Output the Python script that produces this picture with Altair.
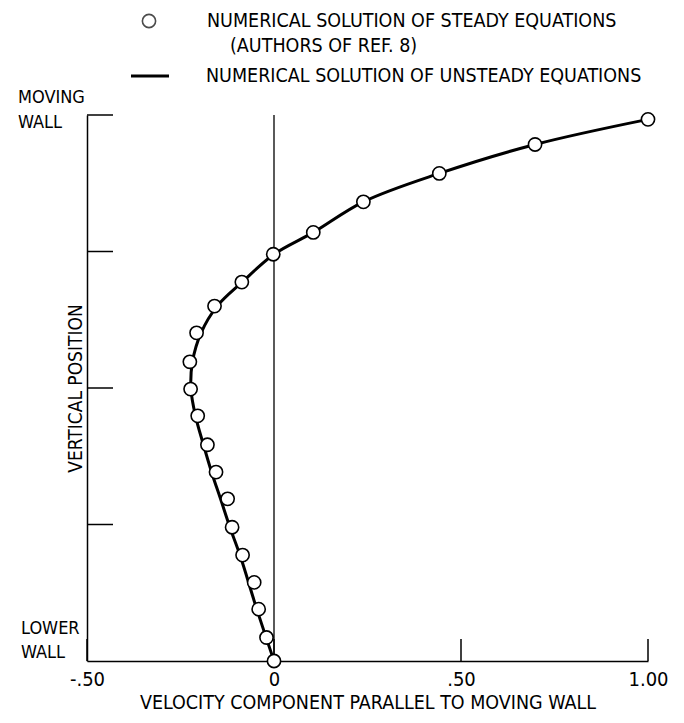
import altair as alt
import pandas as pd

# Steady-equation solution (circles)
pt_x = [1.00, 0.698, 0.442, 0.239, 0.105, -0.002, -0.086, -0.159, -0.207, -0.225, -0.223,
        -0.204, -0.178, -0.155, -0.124, -0.112, -0.084, -0.053, -0.041, -0.020, 0.0]
pt_y = [0.992, 0.946, 0.893, 0.841, 0.785, 0.745, 0.694, 0.650, 0.601, 0.548, 0.498,
        0.449, 0.396, 0.346, 0.297, 0.245, 0.194, 0.144, 0.095, 0.043, 0.0]

# Unsteady-equation solution (solid curve)
line_x = [0.0, -0.046, -0.091, -0.118, -0.143, -0.166, -0.189, -0.210, -0.222, -0.218,
          -0.195, -0.152, -0.085, 0.0, 0.105, 0.239, 0.442, 0.698, 1.0]
line_y = [0.0, 0.095, 0.194, 0.245, 0.297, 0.344, 0.397, 0.449, 0.498, 0.548,
          0.601, 0.650, 0.694, 0.745, 0.785, 0.841, 0.893, 0.946, 0.992]

x_ticks = [-0.5, 0.0, 0.5, 1.0]
x_tick_labels = ["-.50", "0", ".50", "1.00"]
y_ticks = [0.25, 0.5, 0.75, 1.0]

legend_1 = "NUMERICAL SOLUTION OF STEADY EQUATIONS"
legend_1b = "(AUTHORS OF REF. 8)"
legend_2 = "NUMERICAL SOLUTION OF UNSTEADY EQUATIONS"
x_title = "VELOCITY COMPONENT PARALLEL TO MOVING WALL"
y_title = "VERTICAL POSITION"

FONT = "DejaVu Sans Condensed, Liberation Sans Narrow, Arial Narrow, sans-serif"
W, H = 561, 546

pts = pd.DataFrame({"x": pt_x, "y": pt_y})
ln = pd.DataFrame({"x": line_x, "y": line_y, "o": list(range(len(line_x)))})
xt = pd.DataFrame({"x": x_ticks})
yt = pd.DataFrame({"y": y_ticks})

label_expr = " : ".join(
    f"datum.value == {v} ? '{s}'" for v, s in zip(x_ticks, x_tick_labels)
) + " : ''"

xscale = alt.Scale(domain=[-0.5, 1.0], nice=False, zero=False)
yscale = alt.Scale(domain=[0, 1], nice=False, zero=False)

xaxis = alt.Axis(values=x_ticks, labelExpr=label_expr, ticks=False, grid=False,
                 domainColor="black", domainWidth=1.5, labelFont=FONT, labelFontSize=20,
                 labelColor="black", labelPadding=8, labelFlush=False,
                 title=x_title, titleFont=FONT,
                 titleFontSize=19.5, titleFontWeight="normal", titleColor="black",
                 titlePadding=4)
yaxis = alt.Axis(ticks=False, labels=False, grid=False, domainColor="black",
                 domainWidth=1.5, title=y_title, titleFont=FONT, titleFontSize=19,
                 titleFontWeight="normal", titleColor="black", titlePadding=2)

base_x = alt.X("x:Q", scale=xscale, axis=xaxis)
base_y = alt.Y("y:Q", scale=yscale, axis=yaxis)

curve = alt.Chart(ln).mark_line(color="black", strokeWidth=3, interpolate="catmull-rom").encode(
    x=base_x, y=base_y, order="o:Q")

zero_line = alt.Chart(pd.DataFrame({"x": [0.0], "y": [0.0], "y2": [1.0]})).mark_rule(
    color="black", strokeWidth=1.3).encode(x="x:Q", y="y:Q", y2="y2:Q")

xtick_marks = alt.Chart(xt).mark_rule(color="black", strokeWidth=1.5).encode(
    x="x:Q", y=alt.value(H), y2=alt.value(H - 22))
ytick_marks = alt.Chart(yt).mark_rule(color="black", strokeWidth=1.5).encode(
    y="y:Q", x=alt.value(0), x2=alt.value(26))

circles = alt.Chart(pts).mark_point(shape="circle", size=175, filled=False, fill="white",
                                    fillOpacity=1, stroke="black", strokeWidth=1.6,
                                    opacity=1).encode(x="x:Q", y="y:Q")

walls = pd.DataFrame({"y": [1.0, 0.0], "t": ["MOVING\nWALL", "LOWER\nWALL"]})
wall_top = alt.Chart(walls.iloc[[0]]).mark_text(
    align="left", baseline="middle", font=FONT, fontSize=18, lineBreak="\n",
    lineHeight=25, dy=-17, color="black").encode(y="y:Q", x=alt.value(-69), text="t:N")
wall_bot = alt.Chart(walls.iloc[[1]]).mark_text(
    align="left", baseline="middle", font=FONT, fontSize=18, lineBreak="\n",
    lineHeight=24, dy=-32, color="black").encode(y="y:Q", x=alt.value(-66), text="t:N")

leg = pd.DataFrame({"a": [0]})
leg_circle = alt.Chart(leg).mark_point(shape="circle", size=175, filled=False,
                                       stroke="black", strokeWidth=1.6).encode(
    x=alt.value(62), y=alt.value(-94))
leg_line = alt.Chart(leg).mark_rule(color="black", strokeWidth=3).encode(
    x=alt.value(44), x2=alt.value(82), y=alt.value(-39))
leg_t1 = alt.Chart(leg).mark_text(align="left", baseline="middle", font=FONT, fontSize=19.5,
                                  color="black", text=legend_1).encode(
    x=alt.value(120), y=alt.value(-94))
leg_t1b = alt.Chart(leg).mark_text(align="left", baseline="middle", font=FONT, fontSize=19.5,
                                   color="black", text=legend_1b).encode(
    x=alt.value(143), y=alt.value(-69))
leg_t2 = alt.Chart(leg).mark_text(align="left", baseline="middle", font=FONT, fontSize=19.5,
                                  color="black", text=legend_2).encode(
    x=alt.value(119), y=alt.value(-39))

chart = alt.layer(
    curve, zero_line, xtick_marks, ytick_marks, circles, wall_top, wall_bot,
    leg_circle, leg_line, leg_t1, leg_t1b, leg_t2
).properties(
    width=W, height=H,
    autosize=alt.AutoSizeParams(type="none"),
    padding={"left": 79, "top": 107, "right": 28, "bottom": 54},
    background="white",
).configure_view(stroke=None)

chart.save("out.html", embed_options={"renderer": "svg", "actions": False})
